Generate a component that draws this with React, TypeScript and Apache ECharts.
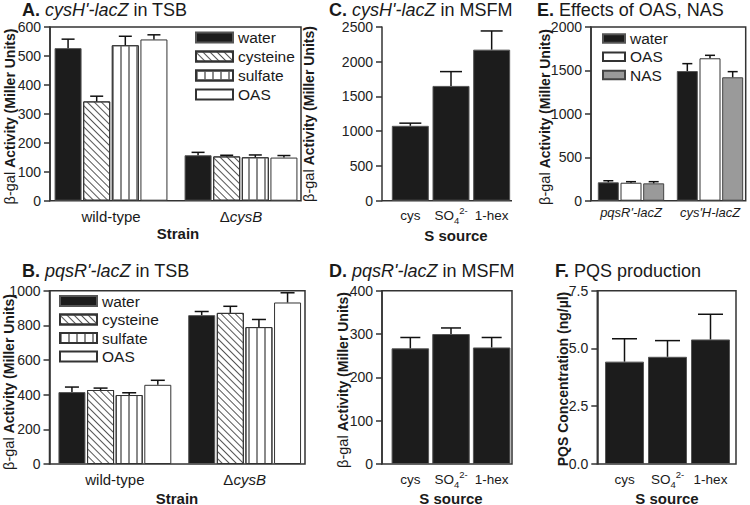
import React, { useEffect, useRef } from 'react';
import * as echarts from 'echarts';

const FONT = '"Liberation Sans", Arial, Helvetica, sans-serif';
const INK = '#1a1a1a';

// ---------- Panel A: cysH'-lacZ in TSB ----------
const strainCategories = ['wild-type', 'ΔcysB'];
const tsbTreatments = ['water', 'cysteine', 'sulfate', 'OAS'];
const aWater = [527, 157];
const aCysteine = [343, 153];
const aSulfate = [537, 150];
const aOAS = [557, 149];
const aWaterErr = [558, 167];
const aCysteineErr = [361, 157];
const aSulfateErr = [568, 158];
const aOASErr = [573, 156];
const aYTicks = [0, 100, 200, 300, 400, 500, 600];

// ---------- Panel B: pqsR'-lacZ in TSB ----------
const bWater = [415, 859];
const bCysteine = [427, 872];
const bSulfate = [398, 790];
const bOAS = [457, 932];
const bWaterErr = [444, 880];
const bCysteineErr = [438, 910];
const bSulfateErr = [411, 834];
const bOASErr = [483, 988];
const bYTicks = [0, 200, 400, 600, 800, 1000];

// ---------- Panel C: cysH'-lacZ in MSFM ----------
const sourceCategories = ['cys', 'SO₄²⁻', '1-hex'];
const cMeans = [1078, 1652, 2174];
const cErr = [1116, 1858, 2443];
const cYTicks = [0, 500, 1000, 1500, 2000, 2500];

// ---------- Panel D: pqsR'-lacZ in MSFM ----------
const dMeans = [267, 300, 269];
const dErr = [292, 314, 292];
const dYTicks = [0, 100, 200, 300, 400];

// ---------- Panel E: Effects of OAS, NAS ----------
const reporterCategories = ["pqsR'-lacZ", "cys'H-lacZ"];
const eTreatments = ['water', 'OAS', 'NAS'];
const eWater = [212, 1493];
const eOAS = [207, 1640];
const eNAS = [200, 1421];
const eWaterErr = [230, 1578];
const eOASErr = [219, 1674];
const eNASErr = [219, 1486];
const eYTicks = [0, 500, 1000, 1500, 2000];

// ---------- Panel F: PQS production ----------
const fMeans = [4.43, 4.64, 5.39];
const fErr = [5.42, 5.34, 6.48];
const fYTicks = [0, 2.5, 5, 7.5];

// ---------- styles ----------
const styleWater = { color: '#1c1c1c', borderColor: '#555', borderWidth: 1 };
const styleCysteine = {
  color: '#ffffff', borderColor: '#333', borderWidth: 1,
  decal: { symbol: 'rect', symbolSize: 1, color: '#555', dashArrayX: [1, 0], dashArrayY: [1, 4], rotation: Math.PI / 4 },
};
const styleSulfate = {
  color: '#ffffff', borderColor: '#333', borderWidth: 1,
  decal: { symbol: 'rect', symbolSize: 1, color: '#8a8a8a', dashArrayX: [1.4, 5.3], dashArrayY: [2, 0], rotation: 0 },
};
const styleOAS = { color: '#ffffff', borderColor: '#333', borderWidth: 1 };
const styleNAS = { color: '#9a9a9a', borderColor: '#444', borderWidth: 1 };

const AXIS_COLOR = '#333';

function yAxisCfg(gridIndex: number, ticks: number[], offset: number, decimals = 0) {
  return {
    type: 'value', gridIndex, min: ticks[0], max: ticks[ticks.length - 1], interval: ticks[1] - ticks[0], offset,
    axisLine: { show: true, lineStyle: { color: AXIS_COLOR, width: 1.5 } },
    axisTick: { show: true, length: 6, lineStyle: { color: AXIS_COLOR, width: 1.5 } },
    axisLabel: {
      fontSize: 14, color: '#222', margin: 9, fontFamily: FONT,
      formatter: (v: number) => v.toFixed(decimals),
    },
    splitLine: { show: false },
  };
}

function xAxisCfg(gridIndex: number, data: string[], label: any) {
  return {
    type: 'category', gridIndex, data,
    axisLine: { show: false }, axisTick: { show: false },
    axisLabel: { fontFamily: FONT, color: INK, interval: 0, ...label },
  };
}

function barSeries(name: string, idx: number, data: number[], itemStyle: any, barWidth: number, barGap = '6%') {
  return { type: 'bar', name, xAxisIndex: idx, yAxisIndex: idx, data, itemStyle, barWidth, barGap, z: 2, silent: true };
}

function errSeries(name: string, idx: number, means: number[], tops: number[], offsetPx: number, capW: number) {
  return {
    type: 'custom', name, xAxisIndex: idx, yAxisIndex: idx, silent: true, z: 4,
    encode: { x: 0, y: [1, 2] },
    data: means.map((m, i) => [i, m, tops[i]]),
    renderItem: (_p: any, api: any) => {
      const c0 = api.coord([api.value(0), api.value(1)]);
      const c1 = api.coord([api.value(0), api.value(2)]);
      const x = c0[0] + offsetPx;
      const ls = { stroke: '#111', lineWidth: 1.5 };
      return {
        type: 'group',
        children: [
          { type: 'line', shape: { x1: x, y1: c0[1], x2: x, y2: c1[1] }, style: ls },
          { type: 'line', shape: { x1: x - capW / 2, y1: c1[1], x2: x + capW / 2, y2: c1[1] }, style: ls },
        ],
      };
    },
  };
}

const strainLabel = {
  fontSize: 15, margin: 8,
  formatter: (v: string) => (v.startsWith('Δ') ? `{n|Δ}{i|${v.slice(1)}}` : `{n|${v}}`),
  rich: {
    n: { fontSize: 15, fontFamily: FONT, color: INK },
    i: { fontSize: 15, fontFamily: FONT, color: INK, fontStyle: 'italic' },
  },
};

const sourceLabel = {
  fontSize: 13.5, margin: 5,
  formatter: (v: string) => (v === 'SO₄²⁻' ? '{n|SO}{sub|4}{sup|2-}' : `{n|${v}}`),
  rich: {
    n: { fontSize: 13.5, fontFamily: FONT, color: INK, lineHeight: 20 },
    sub: { fontSize: 9.5, fontFamily: FONT, color: INK, verticalAlign: 'bottom' },
    sup: { fontSize: 9.5, fontFamily: FONT, color: INK, verticalAlign: 'top' },
  },
};

const reporterLabel = { fontSize: 13, margin: 5, fontStyle: 'italic' };

// Step between bar centres inside a group
const stepA = 27 * 1.06;
const stepE = 21 * 1.08;

function titleText(x: number, y: number, letter: string, italic: string, rest: string) {
  const text = italic ? `{b|${letter}} {i|${italic}} {n|${rest}}` : `{b|${letter}} {n|${rest}}`;
  return {
    type: 'text', x, y, silent: true,
    style: {
      text, fontSize: 18, fontFamily: FONT, fill: INK, align: 'left', verticalAlign: 'middle',
      rich: {
        b: { fontSize: 18, fontFamily: FONT, fontWeight: 'bold', fill: INK },
        i: { fontSize: 18, fontFamily: FONT, fontStyle: 'italic', fill: INK },
        n: { fontSize: 18, fontFamily: FONT, fill: INK },
      },
    },
  };
}

function yName(x: number, y: number, normal: string, bold: string) {
  return {
    type: 'text', x, y, rotation: Math.PI / 2, silent: true,
    style: {
      text: normal ? `{r|${normal}}{b|${bold}}` : `{b|${bold}}`,
      fontSize: 14, fontFamily: FONT, fill: INK, align: 'center', verticalAlign: 'middle',
      rich: {
        r: { fontSize: 14.5, fontFamily: FONT, fill: INK },
        b: { fontSize: 14, fontFamily: FONT, fontWeight: 'bold', fill: INK },
      },
    },
  };
}

function xName(x: number, y: number, text: string) {
  return {
    type: 'text', x, y, silent: true,
    style: { text, fontSize: 15, fontFamily: FONT, fontWeight: 'bold', fill: INK, align: 'center', verticalAlign: 'middle' },
  };
}

function box(x: number, y: number, w: number, h: number) {
  return {
    type: 'rect', silent: true, z: 1,
    shape: { x, y, width: w, height: h },
    style: { fill: 'none', stroke: AXIS_COLOR, lineWidth: 1.5 },
  };
}

const legendCommon = {
  orient: 'vertical', icon: 'rect', selectedMode: false, padding: 0,
  textStyle: { fontSize: 15.5, fontFamily: FONT, color: INK },
};

const option: any = {
  animation: false,
  backgroundColor: '#ffffff',
  grid: [
    { left: 46, top: 27, width: 260, height: 173.7 },
    { left: 50, top: 290.7, width: 259.5, height: 173.3 },
    { left: 390, top: 27, width: 122, height: 173.7 },
    { left: 390, top: 290.7, width: 122, height: 173.3 },
    { left: 591.5, top: 27, width: 158, height: 173.7 },
    { left: 603, top: 290.7, width: 129, height: 173.3 },
  ],
  xAxis: [
    xAxisCfg(0, strainCategories, strainLabel),
    xAxisCfg(1, strainCategories, strainLabel),
    xAxisCfg(2, sourceCategories, sourceLabel),
    xAxisCfg(3, sourceCategories, sourceLabel),
    xAxisCfg(4, reporterCategories, reporterLabel),
    xAxisCfg(5, sourceCategories, sourceLabel),
  ],
  yAxis: [
    yAxisCfg(0, aYTicks, -4),
    yAxisCfg(1, bYTicks, 0.5),
    yAxisCfg(2, cYTicks, 8),
    yAxisCfg(3, dYTicks, 8),
    yAxisCfg(4, eYTicks, 0.5),
    yAxisCfg(5, fYTicks, 5.7, 1),
  ],
  legend: [
    { ...legendCommon, data: tsbTreatments, left: 195, top: 29.5, itemWidth: 37, itemHeight: 10, itemGap: 3 },
    { ...legendCommon, data: tsbTreatments, left: 59, top: 293, itemWidth: 37, itemHeight: 10, itemGap: 2.5 },
    { ...legendCommon, data: eTreatments, left: 602, top: 30.5, itemWidth: 22, itemHeight: 8.5, itemGap: 2.3 },
  ],
  series: [
    // A
    barSeries(tsbTreatments[0], 0, aWater, styleWater, 27),
    barSeries(tsbTreatments[1], 0, aCysteine, styleCysteine, 27),
    barSeries(tsbTreatments[2], 0, aSulfate, styleSulfate, 27),
    barSeries(tsbTreatments[3], 0, aOAS, styleOAS, 27),
    errSeries('errA1', 0, aWater, aWaterErr, -1.5 * stepA, 13),
    errSeries('errA2', 0, aCysteine, aCysteineErr, -0.5 * stepA, 13),
    errSeries('errA3', 0, aSulfate, aSulfateErr, 0.5 * stepA, 13),
    errSeries('errA4', 0, aOAS, aOASErr, 1.5 * stepA, 13),
    // B
    barSeries(tsbTreatments[0], 1, bWater, styleWater, 27),
    barSeries(tsbTreatments[1], 1, bCysteine, styleCysteine, 27),
    barSeries(tsbTreatments[2], 1, bSulfate, styleSulfate, 27),
    barSeries(tsbTreatments[3], 1, bOAS, styleOAS, 27),
    errSeries('errB1', 1, bWater, bWaterErr, -1.5 * stepA, 14),
    errSeries('errB2', 1, bCysteine, bCysteineErr, -0.5 * stepA, 14),
    errSeries('errB3', 1, bSulfate, bSulfateErr, 0.5 * stepA, 14),
    errSeries('errB4', 1, bOAS, bOASErr, 1.5 * stepA, 14),
    // C
    barSeries('cysH MSFM', 2, cMeans, styleWater, 37),
    errSeries('errC', 2, cMeans, cErr, 0, 22),
    // D
    barSeries('pqsR MSFM', 3, dMeans, styleWater, 37.5),
    errSeries('errD', 3, dMeans, dErr, 0, 20),
    // E
    barSeries(eTreatments[0], 4, eWater, styleWater, 21, '8%'),
    barSeries(eTreatments[1], 4, eOAS, styleOAS, 21, '8%'),
    barSeries(eTreatments[2], 4, eNAS, styleNAS, 21, '8%'),
    errSeries('errE1', 4, eWater, eWaterErr, -stepE, 10),
    errSeries('errE2', 4, eOAS, eOASErr, 0, 10),
    errSeries('errE3', 4, eNAS, eNASErr, stepE, 10),
    // F
    barSeries('PQS', 5, fMeans, styleWater, 39),
    errSeries('errF', 5, fMeans, fErr, 0, 25),
  ],
  graphic: [
    box(50, 27, 251, 173.7),
    box(49.5, 290.7, 255.5, 173.3),
    { type: 'line', silent: true, shape: { x1: 382, y1: 200.7, x2: 512, y2: 200.7 }, style: { stroke: AXIS_COLOR, lineWidth: 1.5 } },
    box(382, 290.7, 130, 173.3),
    box(591, 27, 154.7, 173.7),
    box(597.3, 290.7, 138.7, 173.3),
    titleText(22, 10, 'A.', "cysH'-lacZ", 'in TSB'),
    titleText(22, 271, 'B.', "pqsR'-lacZ", 'in TSB'),
    titleText(329, 10, 'C.', "cysH'-lacZ", 'in MSFM'),
    titleText(329, 271, 'D.', "pqsR'-lacZ", 'in MSFM'),
    titleText(537, 10, 'E.', '', 'Effects of OAS, NAS'),
    titleText(555, 271, 'F.', '', 'PQS production'),
    yName(9.5, 116.5, 'β-gal ', 'Activity (Miller Units)'),
    yName(9, 382, 'β-gal ', 'Activity (Miller Units)'),
    yName(309, 114, 'β-gal ', 'Activity (Miller Units)'),
    yName(343, 380, 'β-gal ', 'Activity (Miller Units)'),
    yName(545, 117, 'β-gal ', 'Activity (Miller Units)'),
    yName(563, 379, '', 'PQS Concentration (ng/µl)'),
    xName(178, 233, 'Strain'),
    xName(177, 498, 'Strain'),
    xName(456, 235, 'S source'),
    xName(451, 498, 'S source'),
    xName(667, 498, 'S source'),
  ],
};

export default function App() {
  const ref = useRef<HTMLDivElement>(null);
  useEffect(() => {
    if (!ref.current) return;
    const chart = echarts.init(ref.current, null, { renderer: 'svg' });
    chart.setOption(option);
    return () => chart.dispose();
  }, []);
  return (
    <div
      ref={ref}
      style={{ position: 'fixed', left: 0, top: 0, width: 750, height: 505, background: '#ffffff' }}
    />
  );
}
